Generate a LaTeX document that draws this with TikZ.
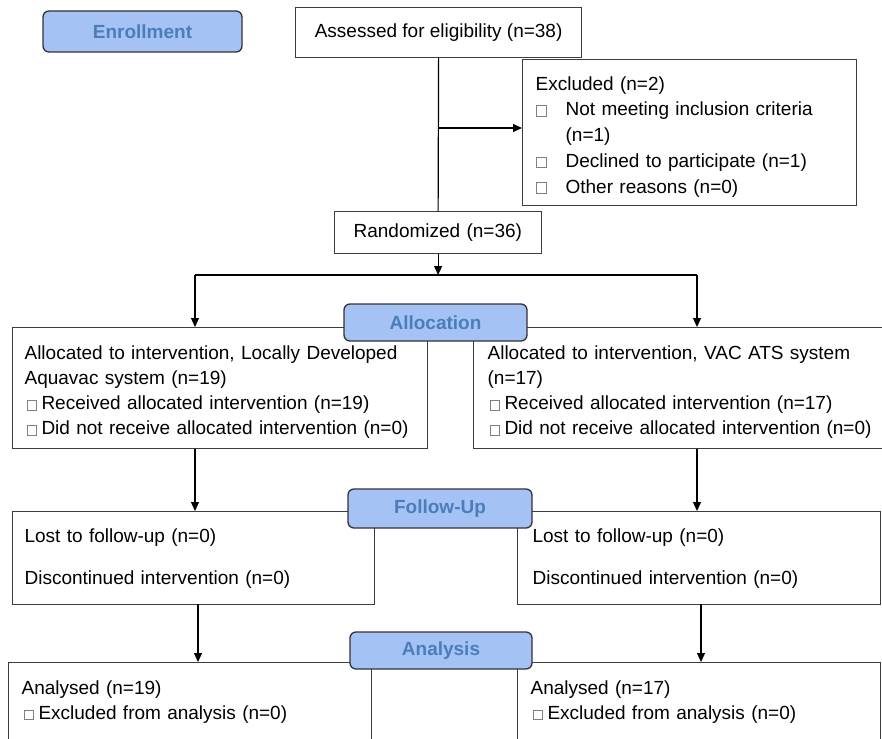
\documentclass[tikz,border=0pt]{standalone}
\usepackage{fontspec}
\setmainfont{Liberation Sans}
\usepackage{tikz}
\usetikzlibrary{arrows.meta}

\definecolor{phasefill}{RGB}{164,194,244}
\definecolor{phasetext}{RGB}{74,126,187}
\definecolor{boxline}{RGB}{60,60,60}

\newcommand{\txtsize}{\fontsize{19}{25}\selectfont}
\newcommand{\chkbox}[1]{\textcolor{gray}{\setlength{\fboxsep}{0pt}\setlength{\fboxrule}{0.7pt}\fbox{\rule{0pt}{#1}\hspace{#1}}}}
\newcommand{\chkitem}{\hspace*{2pt}\chkbox{8.5pt}\hspace{5pt}}
\newcommand{\topgap}{\rule{0pt}{22pt}}

\begin{document}
\begin{tikzpicture}[x=1pt, y=-1pt,
  arr/.style={-{Triangle[length=9pt, width=8pt]}, line width=1.2pt},
  conn/.style={line width=1.2pt},
  flowbox/.style={draw=boxline, line width=1.2pt, fill=white, anchor=north west,
    align=left, font=\txtsize, inner ysep=0pt},
  phase/.style={draw=black!80, line width=1.3pt, fill=phasefill, rounded corners=6pt,
    font=\fontsize{19}{22}\selectfont\bfseries, text=phasetext}]
  \clip (0,0) rectangle (882,738);
  \fill[white] (0,0) rectangle (882,738);

  % Enrollment
  \node[flowbox, minimum width=286pt, minimum height=50pt] (assess) at (295,7)
    {Assessed for eligibility (n=38)};
  \node[flowbox, text width=308pt, inner xsep=13pt, minimum height=146pt,
    font=\fontsize{19}{25.7}\selectfont] (excl) at (522,59)
    {\topgap Excluded (n=2)\\
     \makebox[30pt][l]{\chkbox{10pt}}Not meeting inclusion criteria\\
     \hspace*{30pt}(n=1)\\
     \makebox[30pt][l]{\chkbox{10pt}}Declined to participate (n=1)\\
     \makebox[30pt][l]{\chkbox{10pt}}Other reasons (n=0)};
  \node[flowbox, text width=169pt, inner xsep=19pt, minimum height=42pt] (rand) at (334,211)
    {Randomized (n=36)};

  % Allocation
  \node[flowbox, text width=391pt, inner xsep=12pt, minimum height=121pt] (allocL) at (12,327)
    {\topgap Allocated to intervention, Locally Developed\\
     Aquavac system (n=19)\\
     \chkitem Received allocated intervention (n=19)\\
     \chkitem Did not receive allocated intervention (n=0)};
  \node[flowbox, text width=400pt, inner xsep=14pt, minimum height=121pt] (allocR) at (473,327)
    {\topgap Allocated to intervention, VAC ATS system\\
     (n=17)\\
     \chkitem Received allocated intervention (n=17)\\
     \chkitem Did not receive allocated intervention (n=0)};

  % Follow-Up
  \node[flowbox, text width=338pt, inner xsep=12pt, minimum height=93pt] (followL) at (12,511)
    {Lost to follow-up (n=0)\\[17pt]
     Discontinued intervention (n=0)};
  \node[flowbox, text width=333pt, inner xsep=15pt, minimum height=93pt] (followR) at (517,511)
    {Lost to follow-up (n=0)\\[17pt]
     Discontinued intervention (n=0)};

  % Analysis
  \node[flowbox, text width=337pt, inner xsep=13pt, minimum height=78pt] (analysisL) at (8,662)
    {Analysed (n=19)\\
     \chkitem Excluded from analysis (n=0)};
  \node[flowbox, text width=337pt, inner xsep=13pt, minimum height=78pt] (analysisR) at (517,662)
    {Analysed (n=17)\\
     \chkitem Excluded from analysis (n=0)};

  % Connectors
  \draw[conn] (assess.south) -- (rand.north);
  \coordinate (exclsplit) at (assess.south |- 0,128);
  \draw[arr] (exclsplit) -- (exclsplit -| excl.west);
  \coordinate (splitL) at (195,275);
  \coordinate (splitR) at (697,275);
  \draw[arr] (rand.south) -- (rand.south |- splitL);
  \draw[conn] (splitL) -- (splitR);
  \draw[arr] (splitL) -- (splitL |- allocL.north);
  \draw[arr] (splitR) -- (splitR |- allocR.north);
  \draw[arr] (allocL.south -| splitL) -- (followL.north -| splitL);
  \draw[arr] (allocR.south -| splitR) -- (followR.north -| splitR);
  \coordinate (downL) at (198,604);
  \coordinate (downR) at (701,604);
  \draw[arr] (downL) -- (downL |- analysisL.north);
  \draw[arr] (downR) -- (downR |- analysisR.north);

  % Phase labels
  \node[phase, minimum width=199pt, minimum height=41pt] (enroll) at (142.5,31.5) {Enrollment};
  \node[phase, minimum width=183pt, minimum height=37pt] (allocation) at (435.5,322.5) {Allocation};
  \node[phase, minimum width=184pt, minimum height=39pt] (followup) at (440,508.5) {Follow-Up};
  \node[phase, minimum width=182pt, minimum height=37pt] (analysis) at (441,650.5) {Analysis};
\end{tikzpicture}
\end{document}
